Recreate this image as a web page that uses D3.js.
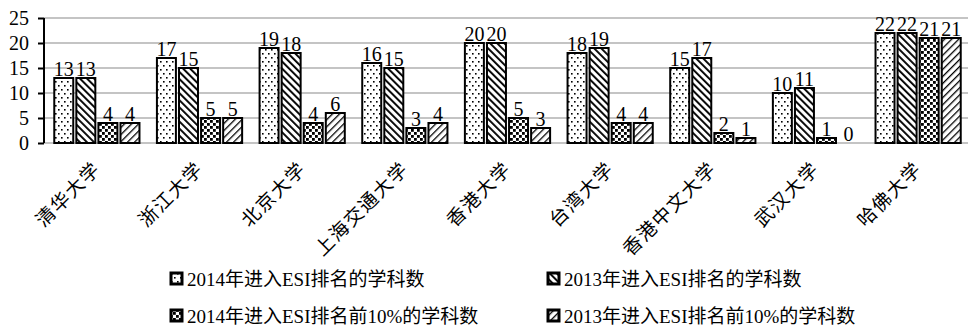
<!DOCTYPE html>
<html>
<head>
<meta charset="utf-8">
<script src="https://cdn.jsdelivr.net/npm/d3@7"></script>
<style>
  body { margin: 0; background: #fff; }
  svg { display: block; }
</style>
</head>
<body>
<svg id="chart" width="968" height="329"></svg>
<script>
// data
var schools = ["清华大学", "浙江大学", "北京大学", "上海交通大学", "香港大学", "台湾大学", "香港中文大学", "武汉大学", "哈佛大学"];
var seriesNames = ["2014年进入ESI排名的学科数", "2013年进入ESI排名的学科数", "2014年进入ESI排名前10%的学科数", "2013年进入ESI排名前10%的学科数"];
var esi2014 = [13, 17, 19, 16, 20, 18, 15, 10, 22];
var esi2013 = [13, 15, 18, 15, 20, 19, 17, 11, 22];
var top2014 = [4, 5, 4, 3, 5, 4, 2, 1, 21];
var top2013 = [4, 5, 6, 4, 3, 4, 1, 0, 21];
var yTicks = [0, 5, 10, 15, 20, 25];

var series = [esi2014, esi2013, top2014, top2013];
var patternIds = ["pDots", "pBack", "pCheck", "pFwd"];

var serif = "'Liberation Serif', 'Times New Roman', serif";
var cjk = "'Liberation Serif', 'Noto Sans CJK SC', serif";

var svg = d3.select("#chart");
var plotLeft = 44, plotRight = 971, plotTop = 18, plotBottom = 143;

// patterns
var defs = svg.append("defs");
var p = defs.append("pattern").attr("id", "pDots").attr("patternUnits", "userSpaceOnUse")
  .attr("width", 6).attr("height", 8);
p.append("rect").attr("width", 6).attr("height", 8).attr("fill", "#fff");
p.append("rect").attr("x", 1).attr("y", 1).attr("width", 1.6).attr("height", 1.6).attr("fill", "#000");
p.append("rect").attr("x", 4).attr("y", 5).attr("width", 1.6).attr("height", 1.6).attr("fill", "#000");

p = defs.append("pattern").attr("id", "pBack").attr("patternUnits", "userSpaceOnUse")
  .attr("width", 5).attr("height", 5).attr("patternTransform", "rotate(-45)");
p.append("rect").attr("width", 5).attr("height", 5).attr("fill", "#fff");
p.append("rect").attr("x", 0).attr("width", 1.9).attr("height", 5).attr("fill", "#000");

p = defs.append("pattern").attr("id", "pCheck").attr("patternUnits", "userSpaceOnUse")
  .attr("width", 6).attr("height", 6);
p.append("rect").attr("width", 6).attr("height", 6).attr("fill", "#fff");
p.append("rect").attr("x", 0).attr("y", 0).attr("width", 2.8).attr("height", 2.8).attr("fill", "#000");
p.append("rect").attr("x", 3).attr("y", 3).attr("width", 2.8).attr("height", 2.8).attr("fill", "#000");

p = defs.append("pattern").attr("id", "pFwd").attr("patternUnits", "userSpaceOnUse")
  .attr("width", 5).attr("height", 5).attr("patternTransform", "rotate(45)");
p.append("rect").attr("width", 5).attr("height", 5).attr("fill", "#fff");
p.append("rect").attr("x", 0).attr("width", 1.3).attr("height", 5).attr("fill", "#000");

// scales
var x0 = d3.scaleBand().domain(schools).range([plotLeft, plotRight]).paddingInner(0.17).paddingOuter(0.1);
var x1 = d3.scaleBand().domain(d3.range(4)).range([0, x0.bandwidth()]).paddingInner(0.14);
var y = d3.scaleLinear().domain([0, 25]).range([plotBottom, plotTop]);

// gridlines
svg.append("g").selectAll("line").data(yTicks).enter().append("line")
  .attr("x1", plotLeft).attr("x2", 968)
  .attr("y1", d => y(d)).attr("y2", d => y(d))
  .attr("stroke", "#c4c4c4").attr("stroke-width", 2);

// y axis
var yAxis = svg.append("g").attr("transform", "translate(" + plotLeft + ",0)")
  .call(d3.axisLeft(y).tickValues(yTicks).tickSize(6).tickPadding(9));
yAxis.select(".domain").attr("stroke", "#000").attr("stroke-width", 2).attr("d", "M0," + plotTop + "V" + plotBottom);
yAxis.selectAll(".tick line").attr("stroke", "#000").attr("stroke-width", 2);
yAxis.selectAll("text").attr("font-family", serif).attr("font-size", 20).attr("fill", "#000");

// bars
var rows = [];
schools.forEach(function (s, i) {
  series.forEach(function (arr, k) { rows.push({ school: s, k: k, v: arr[i] }); });
});

svg.append("g").selectAll("rect").data(rows.filter(d => d.v > 0)).enter().append("rect")
  .attr("x", d => x0(d.school) + x1(d.k))
  .attr("y", d => y(d.v))
  .attr("width", x1.bandwidth())
  .attr("height", d => y(0) - y(d.v))
  .attr("fill", d => "url(#" + patternIds[d.k] + ")")
  .attr("stroke", "#000").attr("stroke-width", 2);

// value labels
svg.append("g").selectAll("text").data(rows).enter().append("text")
  .attr("x", d => x0(d.school) + x1(d.k) + x1.bandwidth() / 2)
  .attr("y", d => y(d.v) - 2)
  .attr("text-anchor", "middle")
  .attr("font-family", serif).attr("font-size", 20).attr("fill", "#000")
  .text(d => d.v);

// category labels, rotated
svg.append("g").selectAll("text").data(schools).enter().append("text")
  .attr("transform", d => "translate(" + (x0(d) + x0.bandwidth() / 2 + 5) + ",170) rotate(-45)")
  .attr("text-anchor", "end")
  .attr("font-family", "'Noto Sans CJK SC', sans-serif").attr("font-size", 19)
  .attr("letter-spacing", 1.5).attr("fill", "#000")
  .text(d => d);

// legend
var legendPos = [[170, 272], [547, 272], [170, 309], [547, 309]];
var lg = svg.append("g").selectAll("g").data(seriesNames).enter().append("g")
  .attr("transform", (d, i) => "translate(" + legendPos[i][0] + "," + legendPos[i][1] + ")");
lg.append("rect").attr("x", 1).attr("y", 1).attr("width", 11).attr("height", 11)
  .attr("fill", (d, i) => "url(#" + patternIds[i] + ")")
  .attr("stroke", "#000").attr("stroke-width", 3);
lg.append("text").attr("x", 17).attr("y", 14)
  .attr("font-family", cjk).attr("font-size", 19).attr("fill", "#000")
  .text(d => d);
</script>
</body>
</html>
